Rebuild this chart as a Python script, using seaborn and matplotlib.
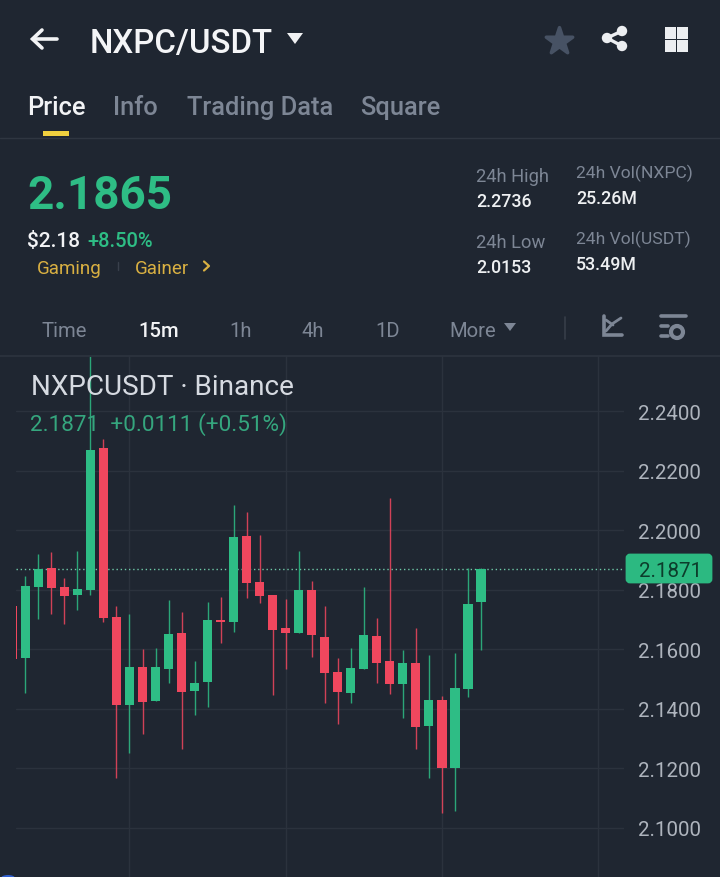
import numpy as np
import pandas as pd
import seaborn as sns
import matplotlib
matplotlib.use("Agg")
import matplotlib.pyplot as plt
from matplotlib.patches import FancyBboxPatch, Rectangle, Polygon, Circle, Ellipse

# ---- data ----
opens = [2.1746, 2.1570, 2.1810, 2.1872, 2.1809, 2.1782, 2.1799, 2.2278, 2.1708, 2.1411,
         2.1540, 2.1425, 2.1533, 2.1654, 2.1459, 2.1489, 2.1698, 2.1691, 2.1981, 2.1827,
         2.1783, 2.1673, 2.1655, 2.1800, 2.1641, 2.1523, 2.1453, 2.1533, 2.1645, 2.1560,
         2.1483, 2.1554, 2.1341, 2.1429, 2.1200, 2.1466, 2.1759]
highs = [2.1746, 2.1848, 2.1921, 2.1926, 2.1840, 2.1931, 2.2590, 2.2306, 2.1746, 2.1718,
         2.1600, 2.1604, 2.1765, 2.1726, 2.1561, 2.1759, 2.1777, 2.2086, 2.2063, 2.1985,
         2.1783, 2.1769, 2.1931, 2.1828, 2.1747, 2.1572, 2.1605, 2.1808, 2.1706, 2.2109,
         2.1597, 2.1673, 2.1581, 2.1444, 2.1589, 2.1874, 2.1874]
lows = [2.1567, 2.1454, 2.1701, 2.1718, 2.1685, 2.1732, 2.1782, 2.1690, 2.1168, 2.1250,
        2.1314, 2.1425, 2.1486, 2.1263, 2.1378, 2.1407, 2.1621, 2.1658, 2.1771, 2.1756,
        2.1446, 2.1533, 2.1655, 2.1574, 2.1419, 2.1347, 2.1419, 2.1533, 2.1486, 2.1448,
        2.1370, 2.1264, 2.1166, 2.1050, 2.1055, 2.1439, 2.1597]
closes = [2.1567, 2.1812, 2.1871, 2.1806, 2.1779, 2.1803, 2.2271, 2.1705, 2.1411, 2.1540,
          2.1422, 2.1540, 2.1651, 2.1455, 2.1486, 2.1698, 2.1691, 2.1978, 2.1823, 2.1780,
          2.1665, 2.1655, 2.1800, 2.1648, 2.1520, 2.1456, 2.1537, 2.1648, 2.1554, 2.1483,
          2.1554, 2.1338, 2.1429, 2.1200, 2.1469, 2.1753, 2.1871]
price_ticks = [2.24, 2.22, 2.20, 2.18, 2.16, 2.14, 2.12, 2.10]
time_grid = [9, 21, 33, 45]
last_price = 2.1871

symbol = "NXPC/USDT"
tabs = ["Price", "Info", "Trading Data", "Square"]
periods = ["Time", "15m", "1h", "4h", "1D", "More"]
headline = "2.1865"

BG = "#1f2631"
GRID = "#2b323d"
UP = "#2ebd85"
DOWN = "#f0475e"
GREY = "#7d8695"

sns.set_theme(style="dark", rc={"axes.facecolor": BG, "figure.facecolor": BG})
plt.rcParams["font.family"] = ["Roboto", "DejaVu Sans"]

W, H = 720, 878
fig = plt.figure(figsize=(W / 100, H / 100), dpi=100, facecolor=BG)

# ---- chart axes ----
L, R, T, B = 16, 624, 356, 878
ax = fig.add_axes([L / W, 1 - B / H, (R - L) / W, (B - T) / H], facecolor=BG)

df = pd.DataFrame({"i": range(len(opens)), "o": opens, "h": highs, "l": lows, "c": closes})
df["up"] = df.c >= df.o
df["bottom"] = df[["o", "c"]].min(axis=1)
df["height"] = (df.c - df.o).abs()
colours = [UP if u else DOWN for u in df.up]

ax.vlines(df.i, df.l, df.h, colors=colours, linewidth=1.0, alpha=0.85, zorder=3)
sns.barplot(data=df, x="i", y="height", bottom=df["bottom"].values, width=0.7,
            errorbar=None, color=UP, ax=ax, zorder=4, order=list(df.i), saturation=1)
for patch, col in zip(ax.patches, colours):
    patch.set_facecolor(col)
    patch.set_edgecolor("none")

ax.set_xlim((L - 12.3) / 13.02, (R - 12.3) / 13.02)
ax.set_ylim(2.24 - (B - 412.4) / 2973, 2.24 + (412.4 - T) / 2973)
ax.set_xticks(time_grid)
ax.set_xticklabels([])
ax.set_yticks(price_ticks)
ax.set_yticklabels([f"{p:.4f}" for p in price_ticks])
ax.yaxis.tick_right()
ax.tick_params(axis="both", length=0)
ax.tick_params(axis="y", labelsize=14.8, labelcolor="#aeb4bd", pad=10.4)
ax.set_xlabel("")
ax.set_ylabel("")
ax.grid(True, color=GRID, linewidth=1)
ax.set_axisbelow(True)
for s in ax.spines.values():
    s.set_visible(False)
ax.axhline(last_price, color="#6fc9a8", linewidth=1, linestyle=(0, (1, 2)), zorder=2)

# ---- overlay in pixel coordinates for the app chrome ----
ui = fig.add_axes([0, 0, 1, 1], facecolor="none")
ui.set_xlim(0, W)
ui.set_ylim(H, 0)
ui.axis("off")


def txt(x, y, s, size, color, weight="normal", ha="left", zorder=5):
    # y is the vertical centre of the capitals; Roboto caps are 0.711 em tall
    ui.text(x, y + 0.3555 * size * 100 / 72, s, fontsize=size, color=color,
            fontweight=weight, ha=ha, va="baseline", zorder=zorder)


# header
ui.plot([33, 57], [40, 40], color="#f2f3f5", lw=2.6, solid_capstyle="round")
ui.plot([42, 32.5, 42], [31, 40, 49], color="#f2f3f5", lw=2.6, solid_capstyle="round",
        solid_joinstyle="miter")
txt(89.5, 41, symbol, 23.8, "#f4f5f7", "medium")
ui.add_patch(Polygon([[287, 34], [303, 34], [295, 45]], closed=True, fc="#f0f1f3", ec="none"))
ui.scatter([559], [41.5], marker="*", s=400, color="#475264", edgecolors="#475264",
           linewidths=2.5)
for (a, b) in [((607, 39), (622, 32)), ((607, 39), (622, 47))]:
    ui.plot([a[0], b[0]], [a[1], b[1]], color="#eceef1", lw=2.4)
for c in [(607, 39), (622, 32), (622, 47)]:
    ui.add_patch(Circle(c, 5.2, fc="#eceef1", ec="none"))
for x0 in (664.5, 677):
    for y0 in (28, 41):
        ui.add_patch(Rectangle((x0, y0), 11.3, 11.5, fc="#eceef1", ec="none"))

# tabs
for x, s, c in zip([27, 113, 187, 360], tabs, ["#f2f3f5", GREY, GREY, GREY]):
    txt(x, 106, s, 18.4, c, "medium")
ui.add_patch(Rectangle((43, 132), 26, 5, fc="#f0d03f", ec="none"))
ui.plot([0, W], [138.5, 138.5], color="#2f3641", lw=1)

# price block
txt(27, 193, headline, 33, UP, "bold")
txt(27, 240, "$2.18", 15, "#f2f3f5", "medium")
txt(87, 240, "+8.50%", 14.5, UP, "medium")
txt(37, 267, "Gaming", 13.5, "#d9b042")
ui.plot([118, 118], [263, 271], color="#39404c", lw=1)
txt(135, 267, "Gainer", 13.5, "#d9b042")
ui.plot([204, 209, 204], [262.5, 267, 271.5], color="#d9b042", lw=1.6)

for x, y, a, v in [(476, 175, "24h High", "2.2736"), (476, 241, "24h Low", "2.0153")]:
    txt(x, y, a, 13.2, GREY)
    txt(x, y + 26, v, 12.8, "#eef0f2", "medium")
for x, y, a, v in [(576, 172, "24h Vol(NXPC)", "25.26M"), (576, 238, "24h Vol(USDT)", "53.49M")]:
    txt(x, y, a, 12.6, GREY)
    txt(x, y + 26, v, 12.8, "#eef0f2", "medium")

# period row
for x, s in zip([41, 138, 229, 301, 375, 449], periods):
    active = s == "15m"
    txt(x, 330, s, 14.6, "#f2f3f5" if active else GREY, "medium" if active else "normal")
ui.add_patch(Polygon([[504, 324], [516, 324], [510, 332]], closed=True, fc=GREY, ec="none"))
ui.plot([565, 565], [318, 340], color="#363d49", lw=1.2)
ui.plot([604, 604, 622], [317, 336, 336], color=GREY, lw=2.6, solid_joinstyle="miter")
ui.plot([606, 612, 621], [332, 325, 319], color=GREY, lw=2)
ui.plot([606, 613], [321, 326], color=GREY, lw=2)
ui.plot([661, 686], [317, 317], color=GREY, lw=2.6)
ui.plot([661, 668], [327, 327], color=GREY, lw=2.6)
ui.plot([661, 668], [337, 337], color=GREY, lw=2.6)
ui.add_patch(Circle((677, 333), 6, fc="none", ec=GREY, lw=3))

# chart legend
txt(31, 385, "NXPCUSDT · Binance", 20.1, "#d6dae1")
txt(30, 423, "2.1871  +0.0111 (+0.51%)", 16.2, "#35a67e")

# last price tag
ui.add_patch(FancyBboxPatch((627, 556), 84, 27, boxstyle="round,pad=0,rounding_size=3",
                            fc="#2cb981", ec="#2cb981", lw=2, zorder=6))
txt(639.5, 570, f"{last_price:.4f}", 14.8, "#0c3d2b", zorder=7)

# horizontal rule over chart and the blue spot at the bottom edge
ui.plot([0, W], [356.5, 356.5], color="#2b323d", lw=1.4)
ui.add_patch(Ellipse((8, 879), 14, 6, fc="#2f5fd0", ec="none"))

fig.savefig("out.png", dpi=100, facecolor=BG)
